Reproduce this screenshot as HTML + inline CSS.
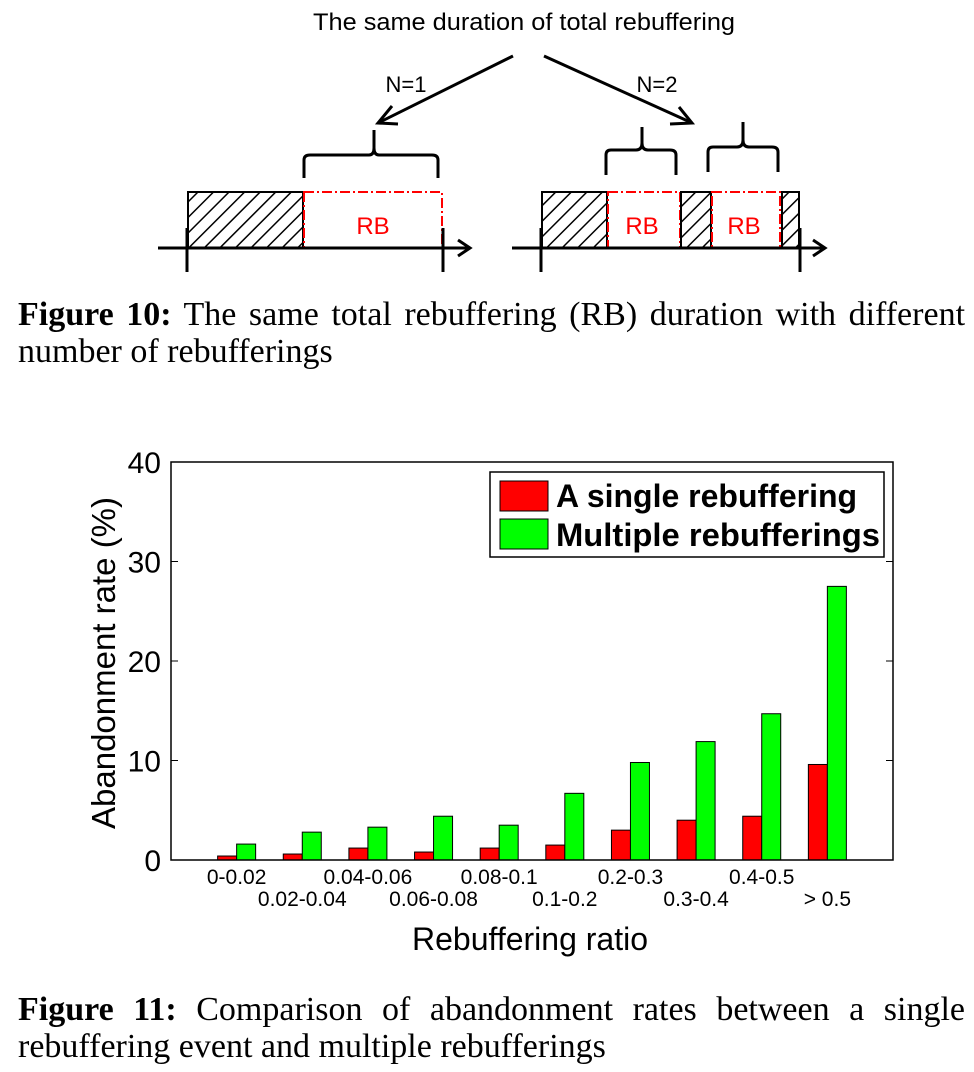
<!DOCTYPE html>
<html><head><meta charset="utf-8"><style>
body{margin:0;background:#fff;width:974px;height:1072px;overflow:hidden;position:relative;font-family:"Liberation Sans",sans-serif}
.cap{position:absolute;left:18px;width:947px;font-family:"Liberation Serif",serif;font-size:34px;line-height:37px;color:#000}
.cap .l1{text-align:justify;text-align-last:justify;white-space:nowrap;display:block}
</style></head><body>
<svg width="974" height="1072" style="position:absolute;left:0;top:0">
<defs>
<pattern id="hatch" patternUnits="userSpaceOnUse" width="11" height="11" patternTransform="rotate(45)">
<rect width="11" height="11" fill="#fff"/><line x1="0" y1="0" x2="0" y2="11" stroke="#000" stroke-width="3"/>
</pattern>
</defs>
<g>
<text x="524" y="30" text-anchor="middle" font-size="24" font-family="Liberation Sans" textLength="422" lengthAdjust="spacingAndGlyphs">The same duration of total rebuffering</text>
<g stroke="#000" stroke-width="3" fill="none">
<line x1="513" y1="56" x2="380" y2="122"/><polyline points="392,106 378,123 398,124"/>
<line x1="544" y1="56" x2="690" y2="122"/><polyline points="670,124 692,123 679,107"/>
</g>
<text x="406" y="92" text-anchor="middle" font-size="22">N=1</text>
<text x="657" y="92" text-anchor="middle" font-size="22">N=2</text>
<g>
<rect x="188" y="192" width="115" height="56" fill="url(#hatch)" stroke="#000" stroke-width="2"/>
<rect x="304" y="192" width="138" height="56" fill="#fff" stroke="#f00" stroke-width="2" stroke-dasharray="10,3,2,3"/>
<text x="373" y="234" text-anchor="middle" font-size="24" fill="#f00">RB</text>
<path d="M304,178 V160 Q304,155 310,155 H369 Q374,155 374,148 V130 M374,148 Q374,155 379,155 H432 Q438,155 438,160 V178" stroke="#000" stroke-width="3" fill="none"/>
<line x1="158" y1="248" x2="468" y2="248" stroke="#000" stroke-width="3"/><polyline points="458,240 470,248 458,256" stroke="#000" stroke-width="3" fill="none"/>
<line x1="187" y1="228" x2="187" y2="272" stroke="#000" stroke-width="3"/><line x1="443" y1="228" x2="443" y2="272" stroke="#000" stroke-width="3"/>
</g>
<g>
<rect x="542" y="192" width="65" height="56" fill="url(#hatch)" stroke="#000" stroke-width="2"/>
<rect x="608" y="192" width="72" height="56" fill="#fff" stroke="#f00" stroke-width="2" stroke-dasharray="10,3,2,3"/>
<rect x="681" y="192" width="30" height="56" fill="url(#hatch)" stroke="#000" stroke-width="2"/>
<rect x="712" y="192" width="68" height="56" fill="#fff" stroke="#f00" stroke-width="2" stroke-dasharray="10,3,2,3"/>
<rect x="782" y="192" width="17" height="56" fill="url(#hatch)" stroke="#000" stroke-width="2"/>
<text x="642" y="234" text-anchor="middle" font-size="24" fill="#f00">RB</text>
<text x="744" y="234" text-anchor="middle" font-size="24" fill="#f00">RB</text>
<path d="M606,175 V155 Q606,150 611,150 H636 Q642,150 642,143 V127 M642,143 Q642,150 648,150 H670 Q676,150 676,155 V175" stroke="#000" stroke-width="3" fill="none"/>
<path d="M708,172 V152 Q708,147 713,147 H737 Q743,147 743,140 V122 M743,140 Q743,147 749,147 H772 Q778,147 778,152 V172" stroke="#000" stroke-width="3" fill="none"/>
<line x1="512" y1="248" x2="823" y2="248" stroke="#000" stroke-width="3"/><polyline points="813,240 825,248 813,256" stroke="#000" stroke-width="3" fill="none"/>
<line x1="541" y1="228" x2="541" y2="272" stroke="#000" stroke-width="3"/><line x1="800" y1="228" x2="800" y2="272" stroke="#000" stroke-width="3"/>
</g>
</g>
<g id="chart"></g>
</svg>
<div class="cap" style="top:296px"><span class="l1"><b>Figure 10:</b> The same total rebuffering (RB) duration with different</span>number of rebufferings</div>
<div class="cap" style="top:991px"><span class="l1"><b>Figure 11:</b> Comparison of abandonment rates between a single</span>rebuffering event and multiple rebufferings</div>
<script>
const categories=["0-0.02","0.02-0.04","0.04-0.06","0.06-0.08","0.08-0.1","0.1-0.2","0.2-0.3","0.3-0.4","0.4-0.5","> 0.5"];
const singleValues=[0.4,0.6,1.2,0.8,1.2,1.5,3.0,4.0,4.4,9.6];
const multipleValues=[1.6,2.8,3.3,4.4,3.5,6.7,9.8,11.9,14.7,27.5];
const yTicks=[0,10,20,30,40];
const NS="http://www.w3.org/2000/svg";
const L=171,R=893,T=462,B=860;
function xs(i){return L+(i+1)*(R-L)/(categories.length+1);}
function ys(v){return B-(v/40)*(B-T);}
const g=document.getElementById('chart');
function mk(tag,attrs,parent){const e=document.createElementNS(NS,tag);for(const k in attrs)e.setAttribute(k,attrs[k]);(parent||g).appendChild(e);return e;}
const bw=19;
categories.forEach((c,i)=>{
 const r=mk('rect',{x:xs(i)-bw,y:ys(singleValues[i]),width:bw,height:B-ys(singleValues[i]),fill:'#ff0000',stroke:'#000','stroke-width':1});
 
 
 const gr=mk('rect',{x:xs(i),y:ys(multipleValues[i]),width:bw,height:B-ys(multipleValues[i]),fill:'#00ff00',stroke:'#000','stroke-width':1});
 
 
 const t=mk('text',{x:xs(i),y:i%2?906:884,'text-anchor':'middle','font-size':21});
 t.textContent=c;
 
 
});
const box=mk('rect',{x:L,y:T,width:R-L,height:B-T,fill:'none',stroke:'#000','stroke-width':1.5});


yTicks.forEach(v=>{
 mk('line',{x1:L,x2:L+7,y1:ys(v),y2:ys(v),stroke:'#000'});
 mk('line',{x1:R-7,x2:R,y1:ys(v),y2:ys(v),stroke:'#000'});
 const t=mk('text',{x:L-10,y:ys(v)+11,'text-anchor':'end','font-size':30});
 t.textContent=v;
 
 
});
const yt=mk('text',{x:0,y:0,transform:'translate(115,663) rotate(-90)','text-anchor':'middle','font-size':33});
yt.textContent='Abandonment rate (%)';


const xt=mk('text',{x:530,y:950,'text-anchor':'middle','font-size':32});
xt.textContent='Rebuffering ratio';


const lg=mk('g',{});


mk('rect',{x:490,y:472,width:394,height:85,fill:'#fff',stroke:'#000','stroke-width':1.5},lg);
mk('rect',{x:500,y:481,width:48,height:30,fill:'#ff0000',stroke:'#000'},lg);
mk('rect',{x:500,y:519,width:48,height:30,fill:'#00ff00',stroke:'#000'},lg);
const l1=mk('text',{x:556,y:507,'font-size':32,'font-weight':'bold'},lg);l1.textContent='A single rebuffering';


const l2=mk('text',{x:556,y:546,'font-size':32,'font-weight':'bold',textLength:324,lengthAdjust:'spacingAndGlyphs'},lg);l2.textContent='Multiple rebufferings';


</script>
</body></html>
